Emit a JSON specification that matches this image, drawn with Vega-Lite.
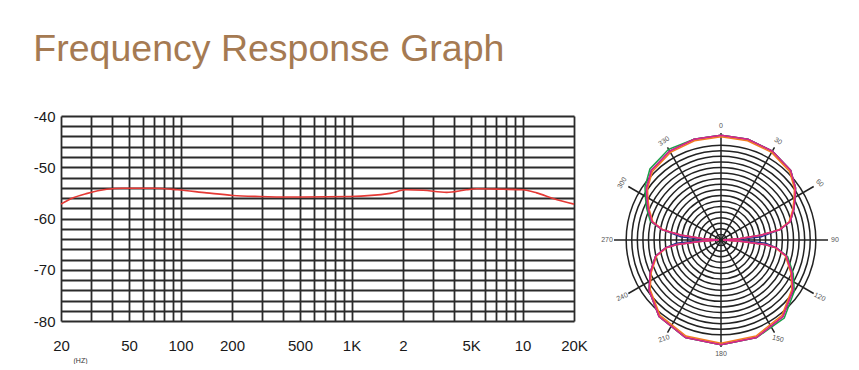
{
  "$schema": "https://vega.github.io/schema/vega-lite/v6.json",
  "background": "white",
  "padding": {"left": 33, "top": 30, "right": 0, "bottom": 0},
  "title": {"text": "Frequency Response Graph", "anchor": "start", "fontSize": 37.5, "font": "Liberation Sans", "fontWeight": "normal", "color": "#a57a52", "offset": 41},
  "spacing": 22,
  "bounds": "flush",
  "config": {"view": {"stroke": null}, "font": "Liberation Sans"},
  "hconcat": [
    {
      "width": 513,
      "height": 205,
      "data": {"values": [
        {"freq": 20, "db": -57.2}, {"freq": 23, "db": -56.1}, {"freq": 28.5, "db": -55.1}, {"freq": 37, "db": -54.3},
        {"freq": 46, "db": -54.1}, {"freq": 70, "db": -54.1}, {"freq": 96, "db": -54.4}, {"freq": 142, "db": -55.0},
        {"freq": 202, "db": -55.5}, {"freq": 290, "db": -55.7}, {"freq": 437, "db": -55.8}, {"freq": 980, "db": -55.7},
        {"freq": 1680, "db": -55.1}, {"freq": 2075, "db": -54.4}, {"freq": 2620, "db": -54.5}, {"freq": 3600, "db": -54.9},
        {"freq": 4700, "db": -54.4}, {"freq": 5400, "db": -54.2}, {"freq": 7700, "db": -54.3}, {"freq": 10000, "db": -54.4},
        {"freq": 12100, "db": -55.0}, {"freq": 15100, "db": -56.1}, {"freq": 20000, "db": -57.2}
      ]},
      "mark": {"type": "line", "color": "#e53935", "strokeWidth": 1.6, "interpolate": "monotone"},
      "encoding": {
        "x": {
          "field": "freq", "type": "quantitative",
          "scale": {"type": "log", "domain": [20, 20000], "nice": false},
          "axis": {
            "values": [20,30,40,50,60,70,80,90,100,200,300,400,500,600,700,800,900,1000,2000,3000,4000,5000,6000,7000,8000,9000,10000,20000],
            "labelExpr": "datum.value == 1000 ? '1K' : datum.value == 2000 ? '2' : datum.value == 5000 ? '5K' : datum.value == 10000 ? '10' : datum.value == 20000 ? '20K' : (datum.value == 20 || datum.value == 50 || datum.value == 100 || datum.value == 200 || datum.value == 500) ? '' + datum.value : ''",
            "grid": true, "gridColor": "#2b2b2b", "gridWidth": 1.8, "gridOpacity": 1,
            "domain": false, "ticks": false,
            "labelFontSize": 15, "labelColor": "#1a1a1a", "labelPadding": 17, "labelFlush": false, "labelOverlap": false,
            "title": "(HZ)", "titleFontSize": 7, "titleFontWeight": "normal", "titleColor": "#333333",
            "titleAnchor": "start", "titleAlign": "center", "titleX": 19, "titleY": 35
          }
        },
        "y": {
          "field": "db", "type": "quantitative",
          "scale": {"domain": [-80, -40], "nice": false, "zero": false},
          "axis": {
            "values": [-80,-78,-76,-74,-72,-70,-68,-66,-64,-62,-60,-58,-56,-54,-52,-50,-48,-46,-44,-42,-40],
            "labelExpr": "datum.value % 10 == 0 ? '' + datum.value : ''",
            "grid": true, "gridColor": "#2b2b2b", "gridWidth": 1.8, "gridOpacity": 1,
            "domain": false, "ticks": false,
            "labelFontSize": 15, "labelColor": "#1a1a1a", "labelPadding": 6, "labelOverlap": false,
            "title": null
          }
        }
      }
    },
    {
      "width": 250,
      "height": 248,
      "layer": [
        {
          "data": {"values": [
            {"ring": 0.0588, "cx": 0, "cy": 0}, {"ring": 0.1176, "cx": 0, "cy": 0}, {"ring": 0.1765, "cx": 0, "cy": 0},
            {"ring": 0.2353, "cx": 0, "cy": 0}, {"ring": 0.2941, "cx": 0, "cy": 0}, {"ring": 0.3529, "cx": 0, "cy": 0},
            {"ring": 0.4118, "cx": 0, "cy": 0}, {"ring": 0.4706, "cx": 0, "cy": 0}, {"ring": 0.5294, "cx": 0, "cy": 0},
            {"ring": 0.5882, "cx": 0, "cy": 0}, {"ring": 0.6471, "cx": 0, "cy": 0}, {"ring": 0.7059, "cx": 0, "cy": 0},
            {"ring": 0.7647, "cx": 0, "cy": 0}, {"ring": 0.8235, "cx": 0, "cy": 0}, {"ring": 0.8824, "cx": 0, "cy": 0},
            {"ring": 0.9412, "cx": 0, "cy": 0}, {"ring": 1, "cx": 0, "cy": 0}
          ]},
          "mark": {"type": "point", "shape": "circle", "filled": false, "stroke": "#222222", "strokeWidth": 1.5, "opacity": 1},
          "encoding": {
            "x": {"field": "cx", "type": "quantitative", "scale": {"domain": [-1.168, 1.168], "nice": false, "zero": false}, "axis": null},
            "y": {"field": "cy", "type": "quantitative", "scale": {"domain": [-1.159, 1.159], "nice": false, "zero": false}, "axis": null},
            "size": {"field": "ring", "type": "quantitative", "scale": {"type": "pow", "exponent": 2, "domain": [0, 1], "range": [0, 35968], "zero": true}, "legend": null}
          }
        },
        {
          "data": {"values": [
            {"x": 0, "y": 1, "x2": 0, "y2": -1},
            {"x": 0.5, "y": 0.866, "x2": -0.5, "y2": -0.866},
            {"x": 0.866, "y": 0.5, "x2": -0.866, "y2": -0.5},
            {"x": 1, "y": 0, "x2": -1, "y2": 0},
            {"x": 0.866, "y": -0.5, "x2": -0.866, "y2": 0.5},
            {"x": 0.5, "y": -0.866, "x2": -0.5, "y2": 0.866}
          ]},
          "mark": {"type": "rule", "color": "#222222", "strokeWidth": 1.5},
          "encoding": {
            "x": {"field": "x", "type": "quantitative", "scale": {"domain": [-1.168, 1.168], "nice": false, "zero": false}, "axis": null},
            "y": {"field": "y", "type": "quantitative", "scale": {"domain": [-1.159, 1.159], "nice": false, "zero": false}, "axis": null},
            "x2": {"field": "x2"},
            "y2": {"field": "y2"}
          }
        },
        {
          "data": {"values": [
            {"s":"blue","i":0,"x":0,"y":0.98},{"s":"blue","i":1,"x":0.252,"y":0.942},{"s":"blue","i":2,"x":0.48,"y":0.831},{"s":"blue","i":3,"x":0.651,"y":0.651},
            {"s":"blue","i":4,"x":0.696,"y":0.488},{"s":"blue","i":5,"x":0.693,"y":0.4},{"s":"blue","i":6,"x":0.681,"y":0.289},{"s":"blue","i":7,"x":0.647,"y":0.173},
            {"s":"blue","i":8,"x":0.551,"y":0.097},{"s":"blue","i":9,"x":0.377,"y":0.03},{"s":"blue","i":10,"x":0.18,"y":0.006},{"s":"blue","i":11,"x":0.02,"y":0},
            {"s":"blue","i":12,"x":0.2,"y":-0.006},{"s":"blue","i":13,"x":0.418,"y":-0.03},{"s":"blue","i":14,"x":0.515,"y":-0.072},{"s":"blue","i":15,"x":0.611,"y":-0.152},
            {"s":"blue","i":16,"x":0.662,"y":-0.308},{"s":"blue","i":17,"x":0.672,"y":-0.47},{"s":"blue","i":18,"x":0.579,"y":-0.715},{"s":"blue","i":19,"x":0.332,"y":-0.912},
            {"s":"blue","i":20,"x":0,"y":-0.98},{"s":"blue","i":21,"x":-0.332,"y":-0.912},{"s":"blue","i":22,"x":-0.579,"y":-0.715},{"s":"blue","i":23,"x":-0.672,"y":-0.47},
            {"s":"blue","i":24,"x":-0.662,"y":-0.308},{"s":"blue","i":25,"x":-0.611,"y":-0.152},{"s":"blue","i":26,"x":-0.515,"y":-0.072},{"s":"blue","i":27,"x":-0.418,"y":-0.03},
            {"s":"blue","i":28,"x":-0.2,"y":-0.006},{"s":"blue","i":29,"x":-0.02,"y":0},{"s":"blue","i":30,"x":-0.18,"y":0.006},{"s":"blue","i":31,"x":-0.377,"y":0.03},
            {"s":"blue","i":32,"x":-0.551,"y":0.097},{"s":"blue","i":33,"x":-0.647,"y":0.173},{"s":"blue","i":34,"x":-0.681,"y":0.289},{"s":"blue","i":35,"x":-0.693,"y":0.4},
            {"s":"blue","i":36,"x":-0.696,"y":0.488},{"s":"blue","i":37,"x":-0.651,"y":0.651},{"s":"blue","i":38,"x":-0.48,"y":0.831},{"s":"blue","i":39,"x":-0.252,"y":0.942},
            {"s":"blue","i":40,"x":0,"y":0.98},

            {"s":"green","i":0,"x":0,"y":0.98},{"s":"green","i":1,"x":0.252,"y":0.942},{"s":"green","i":2,"x":0.48,"y":0.831},{"s":"green","i":3,"x":0.651,"y":0.651},
            {"s":"green","i":4,"x":0.696,"y":0.488},{"s":"green","i":5,"x":0.693,"y":0.4},{"s":"green","i":6,"x":0.681,"y":0.289},{"s":"green","i":7,"x":0.647,"y":0.173},
            {"s":"green","i":8,"x":0.551,"y":0.097},{"s":"green","i":9,"x":0.377,"y":0.046},{"s":"green","i":10,"x":0.18,"y":0.013},{"s":"green","i":11,"x":0.02,"y":0},
            {"s":"green","i":12,"x":0.2,"y":-0.014},{"s":"green","i":13,"x":0.418,"y":-0.044},{"s":"green","i":14,"x":0.515,"y":-0.072},{"s":"green","i":15,"x":0.623,"y":-0.155},
            {"s":"green","i":16,"x":0.675,"y":-0.314},{"s":"green","i":17,"x":0.685,"y":-0.479},{"s":"green","i":18,"x":0.591,"y":-0.729},{"s":"green","i":19,"x":0.332,"y":-0.912},
            {"s":"green","i":20,"x":0,"y":-0.98},{"s":"green","i":21,"x":-0.332,"y":-0.912},{"s":"green","i":22,"x":-0.579,"y":-0.715},{"s":"green","i":23,"x":-0.672,"y":-0.47},
            {"s":"green","i":24,"x":-0.662,"y":-0.308},{"s":"green","i":25,"x":-0.611,"y":-0.152},{"s":"green","i":26,"x":-0.515,"y":-0.072},{"s":"green","i":27,"x":-0.418,"y":-0.044},
            {"s":"green","i":28,"x":-0.2,"y":-0.014},{"s":"green","i":29,"x":-0.02,"y":0},{"s":"green","i":30,"x":-0.18,"y":0.013},{"s":"green","i":31,"x":-0.377,"y":0.046},
            {"s":"green","i":32,"x":-0.551,"y":0.097},{"s":"green","i":33,"x":-0.66,"y":0.176},{"s":"green","i":34,"x":-0.695,"y":0.295},{"s":"green","i":35,"x":-0.707,"y":0.408},
            {"s":"green","i":36,"x":-0.71,"y":0.498},{"s":"green","i":37,"x":-0.664,"y":0.664},{"s":"green","i":38,"x":-0.49,"y":0.848},{"s":"green","i":39,"x":-0.252,"y":0.942},
            {"s":"green","i":40,"x":0,"y":0.98},

            {"s":"orange","i":0,"x":0,"y":0.965},{"s":"orange","i":1,"x":0.248,"y":0.928},{"s":"orange","i":2,"x":0.473,"y":0.819},{"s":"orange","i":3,"x":0.641,"y":0.641},
            {"s":"orange","i":4,"x":0.686,"y":0.481},{"s":"orange","i":5,"x":0.683,"y":0.394},{"s":"orange","i":6,"x":0.671,"y":0.285},{"s":"orange","i":7,"x":0.637,"y":0.17},
            {"s":"orange","i":8,"x":0.543,"y":0.096},{"s":"orange","i":9,"x":0.371,"y":0.045},{"s":"orange","i":10,"x":0.177,"y":0.013},{"s":"orange","i":11,"x":0.02,"y":0},
            {"s":"orange","i":12,"x":0.197,"y":-0.014},{"s":"orange","i":13,"x":0.412,"y":-0.043},{"s":"orange","i":14,"x":0.507,"y":-0.071},{"s":"orange","i":15,"x":0.602,"y":-0.15},
            {"s":"orange","i":16,"x":0.652,"y":-0.303},{"s":"orange","i":17,"x":0.662,"y":-0.463},{"s":"orange","i":18,"x":0.57,"y":-0.704},{"s":"orange","i":19,"x":0.327,"y":-0.898},
            {"s":"orange","i":20,"x":0,"y":-0.965},{"s":"orange","i":21,"x":-0.327,"y":-0.898},{"s":"orange","i":22,"x":-0.57,"y":-0.704},{"s":"orange","i":23,"x":-0.662,"y":-0.463},
            {"s":"orange","i":24,"x":-0.652,"y":-0.303},{"s":"orange","i":25,"x":-0.602,"y":-0.15},{"s":"orange","i":26,"x":-0.507,"y":-0.071},{"s":"orange","i":27,"x":-0.412,"y":-0.043},
            {"s":"orange","i":28,"x":-0.197,"y":-0.014},{"s":"orange","i":29,"x":-0.02,"y":0},{"s":"orange","i":30,"x":-0.177,"y":0.013},{"s":"orange","i":31,"x":-0.371,"y":0.045},
            {"s":"orange","i":32,"x":-0.543,"y":0.096},{"s":"orange","i":33,"x":-0.637,"y":0.17},{"s":"orange","i":34,"x":-0.671,"y":0.285},{"s":"orange","i":35,"x":-0.683,"y":0.394},
            {"s":"orange","i":36,"x":-0.686,"y":0.481},{"s":"orange","i":37,"x":-0.641,"y":0.641},{"s":"orange","i":38,"x":-0.473,"y":0.819},{"s":"orange","i":39,"x":-0.248,"y":0.928},
            {"s":"orange","i":40,"x":0,"y":0.965},

            {"s":"magenta","i":0,"x":0,"y":0.98},{"s":"magenta","i":1,"x":0.252,"y":0.942},{"s":"magenta","i":2,"x":0.48,"y":0.831},{"s":"magenta","i":3,"x":0.651,"y":0.651},
            {"s":"magenta","i":4,"x":0.696,"y":0.488},{"s":"magenta","i":5,"x":0.693,"y":0.4},{"s":"magenta","i":6,"x":0.681,"y":0.289},{"s":"magenta","i":7,"x":0.647,"y":0.173},
            {"s":"magenta","i":8,"x":0.551,"y":0.097},{"s":"magenta","i":9,"x":0.377,"y":0.046},{"s":"magenta","i":10,"x":0.18,"y":0.013},{"s":"magenta","i":11,"x":0.02,"y":0},
            {"s":"magenta","i":12,"x":0.2,"y":-0.014},{"s":"magenta","i":13,"x":0.418,"y":-0.044},{"s":"magenta","i":14,"x":0.515,"y":-0.072},{"s":"magenta","i":15,"x":0.611,"y":-0.152},
            {"s":"magenta","i":16,"x":0.662,"y":-0.308},{"s":"magenta","i":17,"x":0.672,"y":-0.47},{"s":"magenta","i":18,"x":0.579,"y":-0.715},{"s":"magenta","i":19,"x":0.332,"y":-0.912},
            {"s":"magenta","i":20,"x":0,"y":-0.98},{"s":"magenta","i":21,"x":-0.332,"y":-0.912},{"s":"magenta","i":22,"x":-0.579,"y":-0.715},{"s":"magenta","i":23,"x":-0.672,"y":-0.47},
            {"s":"magenta","i":24,"x":-0.662,"y":-0.308},{"s":"magenta","i":25,"x":-0.611,"y":-0.152},{"s":"magenta","i":26,"x":-0.515,"y":-0.072},{"s":"magenta","i":27,"x":-0.418,"y":-0.044},
            {"s":"magenta","i":28,"x":-0.2,"y":-0.014},{"s":"magenta","i":29,"x":-0.02,"y":0},{"s":"magenta","i":30,"x":-0.18,"y":0.013},{"s":"magenta","i":31,"x":-0.377,"y":0.046},
            {"s":"magenta","i":32,"x":-0.551,"y":0.097},{"s":"magenta","i":33,"x":-0.647,"y":0.173},{"s":"magenta","i":34,"x":-0.681,"y":0.289},{"s":"magenta","i":35,"x":-0.693,"y":0.4},
            {"s":"magenta","i":36,"x":-0.696,"y":0.488},{"s":"magenta","i":37,"x":-0.651,"y":0.651},{"s":"magenta","i":38,"x":-0.48,"y":0.831},{"s":"magenta","i":39,"x":-0.252,"y":0.942},
            {"s":"magenta","i":40,"x":0,"y":0.98}
          ]},
          "mark": {"type": "line", "strokeWidth": 1.5, "interpolate": "linear"},
          "encoding": {
            "x": {"field": "x", "type": "quantitative", "scale": {"domain": [-1.168, 1.168], "nice": false, "zero": false}, "axis": null},
            "y": {"field": "y", "type": "quantitative", "scale": {"domain": [-1.159, 1.159], "nice": false, "zero": false}, "axis": null},
            "order": {"field": "i", "type": "quantitative"},
            "color": {"field": "s", "type": "nominal", "scale": {"domain": ["blue", "green", "orange", "magenta"], "range": ["#2e3192", "#1e9e4a", "#f47a20", "#e0218a"]}, "legend": null}
          }
        },
        {
          "data": {"values": [
            {"deg": 0, "t": "0"}, {"deg": 30, "t": "30"}, {"deg": 60, "t": "60"}, {"deg": 90, "t": "90"},
            {"deg": 120, "t": "120"}, {"deg": 150, "t": "150"}, {"deg": 180, "t": "180"}, {"deg": 210, "t": "210"},
            {"deg": 240, "t": "240"}, {"deg": 270, "t": "270"}, {"deg": 300, "t": "300"}, {"deg": 330, "t": "330"}
          ]},
          "mark": {"type": "text", "fontSize": 7, "fill": "#555555"},
          "encoding": {
            "theta": {"field": "deg", "type": "quantitative", "scale": {"domain": [0, 360], "range": [0, 6.283185]}},
            "radius": {"value": 114},
            "text": {"field": "t"},
            "angle": {"field": "deg", "type": "quantitative", "scale": {"type": "threshold", "domain": [15, 45, 75, 105, 135, 165, 195, 225, 255, 285, 315, 345], "range": [0, 30, 45, 0, 25, 15, 0, 340, 335, 0, 300, 325, 0]}, "legend": null}
          }
        }
      ]
    }
  ]
}
